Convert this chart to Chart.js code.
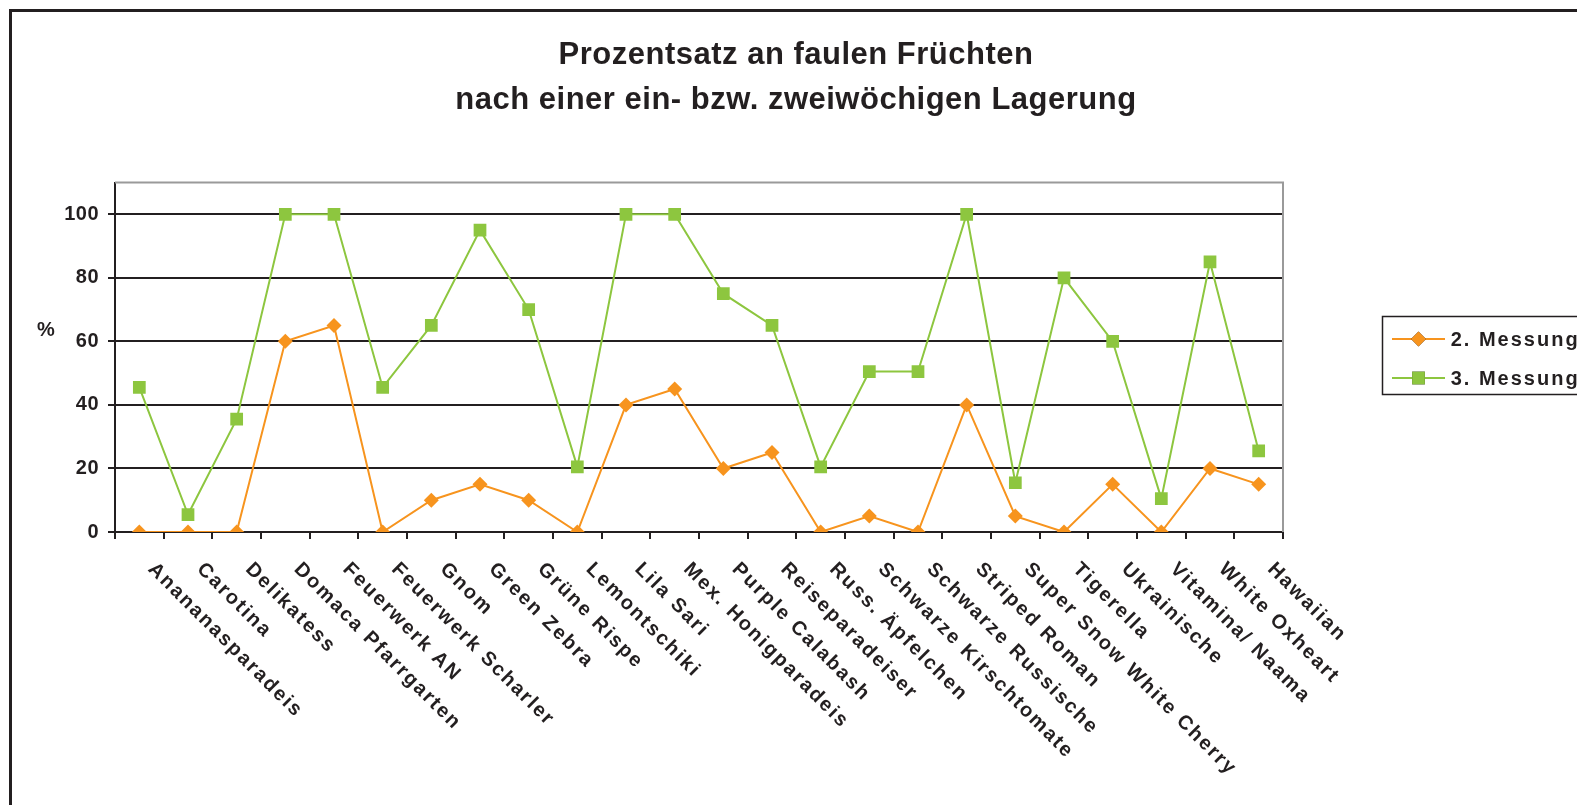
<!DOCTYPE html>
<html>
<head>
<meta charset="utf-8">
<script src="https://cdn.jsdelivr.net/npm/chart.js@4.4.1/dist/chart.umd.min.js"></script>
<style>
html, body { margin: 0; padding: 0; background: #fff; overflow: hidden; }
#frame { position: absolute; left: 9px; top: 9px; width: 1568px; height: 820px; border: 3px solid #231f20; }
canvas { display: block; }
</style>
</head>
<body>
<div id="frame"><canvas id="chart" width="1568" height="820"></canvas></div>
<script>
const categories = [
  'Anananasparadeis', 'Carotina', 'Delikatess', 'Domaca Pfarrgarten', 'Feuerwerk AN',
  'Feuerwerk Scharler', 'Gnom', 'Green Zebra', 'Grüne Rispe', 'Lemontschiki', 'Lila Sari',
  'Mex. Honigparadeis', 'Purple Calabash', 'Reiseparadeiser', 'Russ. Äpfelchen',
  'Schwarze Kirschtomate', 'Schwarze Russische', 'Striped Roman', 'Super Snow White Cherry',
  'Tigerella', 'Ukrainische', 'Vitamina/ Naama', 'White Oxheart', 'Hawaiian'
];
const messung2 = [0, 0, 0, 60, 65, 0, 10, 15, 10, 0, 40, 45, 20, 25, 0, 5, 0, 40, 5, 0, 15, 0, 20, 15];
const messung3 = [45.5, 5.5, 35.5, 100, 100, 45.5, 65, 95, 70, 20.5, 100, 100, 75, 65, 20.5, 50.5, 50.5, 100, 15.5, 80, 60, 10.5, 85, 25.5];
const yTicks = [0, 20, 40, 60, 80, 100];
const seriesNames = ['2. Messung', '3. Messung'];

const FONT = '"Liberation Sans", Arial, Helvetica, sans-serif';
const INK = '#231f20';
const ORANGE = '#f7941e';
const GREEN = '#8dc63f';

// extra bits Excel draws: rotated category labels, legend box, "%" label, plot frame
const extras = {
  id: 'extras',
  beforeDraw(chart) {
    chart.ctx.letterSpacing = '0.5px';
  },
  beforeDatasetsDraw(chart) {
    const { ctx, chartArea: a } = chart;
    ctx.save();
    ctx.strokeStyle = '#9a9a9a';
    ctx.lineWidth = 2;
    ctx.beginPath();
    ctx.moveTo(a.left, a.top);
    ctx.lineTo(a.right, a.top);
    ctx.lineTo(a.right, a.bottom);
    ctx.stroke();
    ctx.restore();
  },
  afterDraw(chart) {
    const ctx = chart.ctx;
    const xs = chart.scales.x;
    ctx.save();
    ctx.fillStyle = INK;
    ctx.font = 'bold 20px ' + FONT;
    ctx.letterSpacing = '2px';
    ctx.textAlign = 'left';
    ctx.textBaseline = 'top';
    categories.forEach((c, i) => {
      const px = xs.getPixelForValue(i);
      ctx.save();
      ctx.translate(px + 19, xs.top + 27);
      ctx.rotate(Math.PI / 4);
      ctx.fillText(c, 0, 0);
      ctx.restore();
    });

    // y axis unit
    ctx.textAlign = 'center';
    ctx.textBaseline = 'middle';
    ctx.letterSpacing = '0px';
    ctx.fillText('%', 34, 318);

    // legend
    ctx.strokeStyle = INK;
    ctx.lineWidth = 1.5;
    ctx.strokeRect(1370.5, 304.5, 230, 78);
    ctx.letterSpacing = '2px';
    ctx.textAlign = 'left';
    const rows = [327, 366];
    chart.data.datasets.forEach((ds, i) => {
      const y = rows[i];
      ctx.strokeStyle = ds.borderColor;
      ctx.lineWidth = 2;
      ctx.beginPath();
      ctx.moveTo(1380, y);
      ctx.lineTo(1433, y);
      ctx.stroke();
      Chart.helpers.drawPoint(ctx, {
        pointStyle: ds.pointStyle, radius: ds.pointRadius, borderWidth: 0, rotation: 0
      }, 1406.5, y);
      ctx.fillStyle = ds.backgroundColor;
      ctx.fill();
      ctx.fillStyle = INK;
      ctx.fillText(seriesNames[i], 1438.7, y + 1);
    });
    ctx.restore();
  }
};

new Chart(document.getElementById('chart'), {
  type: 'line',
  data: {
    labels: categories,
    datasets: [
      {
        label: seriesNames[0], data: messung2,
        borderColor: ORANGE, backgroundColor: ORANGE, borderWidth: 2,
        pointStyle: 'rectRot', pointRadius: 7.5, pointBorderWidth: 0, tension: 0
      },
      {
        label: seriesNames[1], data: messung3,
        borderColor: GREEN, backgroundColor: GREEN, borderWidth: 2,
        pointStyle: 'rect', pointRadius: 9, pointBorderWidth: 0, tension: 0
      }
    ]
  },
  options: {
    responsive: false,
    animation: false,
    events: [],
    layout: { padding: { left: 0, right: 0, top: 0, bottom: 280 } },
    plugins: {
      legend: { display: false },
      tooltip: { enabled: false },
      title: {
        display: true,
        text: ['Prozentsatz an faulen Früchten', 'nach einer ein- bzw. zweiwöchigen Lagerung'],
        color: INK,
        font: { family: FONT, size: 31, weight: 'bold', lineHeight: '45px' },
        padding: { top: 21, bottom: 59.5 }
      }
    },
    scales: {
      x: {
        offset: true,
        grid: { offset: true, drawOnChartArea: false, drawTicks: true, tickLength: 7, color: INK, lineWidth: 2 },
        border: { color: INK, width: 2 },
        ticks: { display: false },
        afterFit: s => { s.height = 20; }
      },
      y: {
        min: 0,
        max: 110,
        afterBuildTicks: s => { s.ticks = yTicks.map(v => ({ value: v })); },
        grid: { color: INK, lineWidth: 2, tickLength: 7 },
        border: { color: INK, width: 2 },
        ticks: { color: INK, padding: 9, font: { family: FONT, size: 20, weight: 'bold' } },
        afterFit: s => { s.width = 103; }
      },
      // empty right-hand axis that keeps room for the legend
      y2: {
        position: 'right',
        grid: { display: false },
        border: { display: false },
        ticks: { display: false },
        afterFit: s => { s.width = 297; }
      }
    }
  },
  plugins: [extras]
});
</script>
</body>
</html>
